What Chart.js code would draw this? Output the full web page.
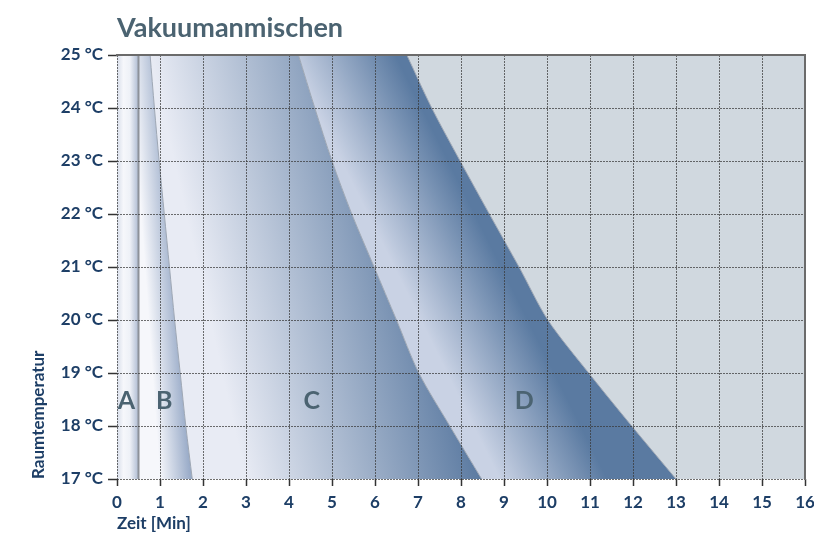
<!DOCTYPE html>
<html>
<head>
<meta charset="utf-8">
<script src="https://cdn.jsdelivr.net/npm/chart.js@4/dist/chart.umd.min.js"></script>
<style>
  html, body { margin: 0; padding: 0; background: #fff; }
  canvas { display: block; }
</style>
</head>
<body>
<canvas id="mixChart" width="814" height="536"></canvas>
<script>
// ── Data: right boundary of each zone (Zeit in Min) per Raumtemperatur ──
const temps     = [25, 24, 23, 22, 21, 20, 19, 18, 17];
const boundaryA = [0.5, 0.5, 0.5, 0.5, 0.5, 0.5, 0.5, 0.5, 0.5];
const boundaryB = [0.77, 0.87, 0.98, 1.1, 1.22, 1.34, 1.47, 1.6, 1.75];
const boundaryC = [4.22, 4.6, 5.0, 5.46, 5.98, 6.5, 7.02, 7.74, 8.48];
const boundaryD = [6.74, 7.32, 7.98, 8.66, 9.35, 10.02, 10.97, 11.97, 13.0];

const zoneLabels = ['A', 'B', 'C', 'D'];
const zoneLabelX = [0.22, 1.1, 4.53, 9.47];
const zoneLabelY = 18.48;

const X_MIN = 0, X_MAX = 16;
const Y_MIN = 17, Y_MAX = 25;

const NAVY  = '#1d3e66';
const SLATE = '#4b6371';
const GRID  = 'rgba(55,55,55,0.72)';
const EDGE  = '#9ea7b4';

const pts = xs => xs.map((x, i) => ({ x, y: temps[i] }));

// gradient defined by its t=0 line (two data points) and a point on the t=1 line
function isoGrad(zero, one, stops) {
  return (c) => {
    const chart = c.chart;
    if (!chart.chartArea) return stops[0][1];
    const sx = chart.scales.x, sy = chart.scales.y;
    const px = p => [sx.getPixelForValue(p[0]), sy.getPixelForValue(p[1])];
    const a0 = px(zero[0]), a1 = px(zero[1]), b = px(one);
    let ux = a1[0] - a0[0], uy = a1[1] - a0[1];
    const len = Math.hypot(ux, uy);
    ux /= len; uy /= len;
    const nx = -uy, ny = ux;
    const d = (b[0] - a0[0]) * nx + (b[1] - a0[1]) * ny;
    const g = chart.ctx.createLinearGradient(a0[0], a0[1], a0[0] + nx * d, a0[1] + ny * d);
    stops.forEach(([o, col]) => g.addColorStop(o, col));
    return g;
  };
}

// each boundary line fills the zone to its left
const zone = (xs, fill, bg, color, width) => ({
  data: pts(xs), fill, backgroundColor: bg,
  borderColor: color, borderWidth: width,
  pointRadius: 0, tension: 0.3
});

// Letters A–D drawn on top
const zoneLetters = {
  id: 'zoneLetters',
  afterDraw(chart) {
    const { ctx, scales: { x, y } } = chart;
    ctx.save();
    ctx.font = 'bold 25px Lato, sans-serif';
    ctx.fillStyle = SLATE;
    ctx.textAlign = 'center';
    ctx.textBaseline = 'middle';
    zoneLabels.forEach((t, i) => {
      ctx.fillText(t, x.getPixelForValue(zoneLabelX[i]), y.getPixelForValue(zoneLabelY));
    });
    ctx.restore();
  }
};

const tickFont  = { family: 'Lato', size: 17, weight: 'bold' };
const titleFont = { family: 'Lato', size: 17, weight: 'bold' };

new Chart(document.getElementById('mixChart'), {
  type: 'line',
  data: {
    datasets: [
      zone(boundaryA, { value: X_MIN }, isoGrad([[0, 25], [0, 17]], [0.5, 17],
        [[0, '#d8deea'], [0.3, '#f6f7fb'], [0.6, '#eef1f7'], [1, '#aebbd2']]), '#8d929a', 2),
      zone(boundaryB, '-1', isoGrad([[0.3, 25], [1.0, 17]], [1.8, 17],
        [[0, '#f6f7fb'], [1, '#8ea2c2']]), EDGE, 1),
      zone(boundaryC, '-1', isoGrad([[0.77, 25], [3.0, 17]], [8.5, 17],
        [[0, '#e8ebf4'], [1, '#5b7aa1']]), EDGE, 1),
      zone(boundaryD, '-1', isoGrad([[3.98, 25], [8.9, 17]], [11.4, 17],
        [[0, '#c9d2e4'], [1, '#5a7aa1']]), EDGE, 1),
      zone(boundaryD, { value: X_MAX }, '#d0d8df', EDGE, 0)
    ]
  },
  options: {
    responsive: false,
    animation: false,
    indexAxis: 'y',
    layout: { padding: { top: 0, right: 9, bottom: 0, left: 0 } },
    plugins: {
      legend: { display: false },
      tooltip: { enabled: false },
      title: {
        display: true,
        text: 'Vakuumanmischen',
        align: 'start',
        fullSize: false,
        color: SLATE,
        font: { family: 'Lato', size: 27, weight: 'bold' },
        padding: { top: 12, bottom: 10.6 }
      }
    },
    scales: {
      x: {
        type: 'linear', position: 'bottom', min: X_MIN, max: X_MAX,
        ticks: { stepSize: 1, color: NAVY, font: tickFont, padding: 6, maxRotation: 0 },
        grid: { z: 1, color: GRID, lineWidth: 1, tickLength: 7, tickColor: '#333', tickWidth: 1.5 },
        border: { display: false, dash: [2, 1] },
        title: {
          display: true, text: 'Zeit [Min]', align: 'start', color: NAVY,
          font: titleFont, padding: { top: 2, bottom: 2 }
        },
        afterFit: s => { s.height = 57; s.paddingRight = 0; s.paddingLeft = 0; }
      },
      y: {
        type: 'linear', position: 'left', min: Y_MIN, max: Y_MAX,
        ticks: { stepSize: 1, color: NAVY, font: tickFont, padding: 5, callback: v => v + ' °C' },
        grid: { z: 1, color: GRID, lineWidth: 1, tickLength: 9, tickColor: '#333', tickWidth: 1.5 },
        border: { display: false, dash: [2, 1] },
        title: {
          display: true, text: 'Raumtemperatur', align: 'start', color: NAVY,
          font: titleFont, padding: { top: 28, bottom: 28 }
        },
        afterFit: s => { s.width = 117; }
      },
      x2: {
        type: 'linear', position: 'top', min: X_MIN, max: X_MAX,
        grid: { display: false, drawTicks: false },
        ticks: { display: false },
        border: { display: true, color: '#6b6b6b', width: 2, z: 2 }
      },
      y2: {
        type: 'linear', position: 'right', min: Y_MIN, max: Y_MAX,
        grid: { display: false, drawTicks: false },
        ticks: { display: false },
        border: { display: true, color: '#6b6b6b', width: 2, z: 2 }
      }
    }
  },
  plugins: [zoneLetters]
});
</script>
</body>
</html>
